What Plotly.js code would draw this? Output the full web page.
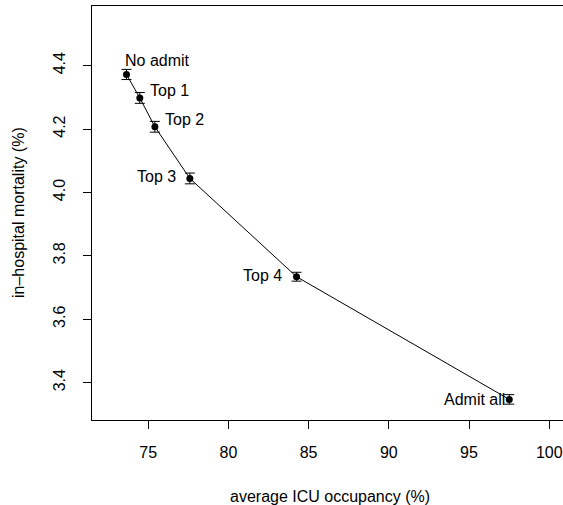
<!DOCTYPE html>
<html>
<head>
<meta charset="utf-8">
<script src="https://cdn.plot.ly/plotly-3.0.1.min.js"></script>
<style>
  html, body { margin: 0; padding: 0; overflow: hidden; background: #fff; }
  #chart { width: 575px; height: 505px; }
</style>
</head>
<body>
<div id="chart"></div>
<script>
// Admission policies: occupancy vs. mortality, with standard errors
const policies  = ["No admit", "Top 1", "Top 2", "Top 3", "Top 4", "Admit all"];
const occupancy = [73.65, 74.48, 75.42, 77.60, 84.25, 97.51];
const mortality = [4.372, 4.298, 4.207, 4.044, 3.734, 3.347];
const mortSE    = [0.016, 0.017, 0.017, 0.017, 0.014, 0.015];

const xTicks = [75, 80, 85, 90, 95, 100];
const yTicks = [3.4, 3.6, 3.8, 4.0, 4.2, 4.4];

// label placement around each point (pixels)
const labelPlace = [
  { anchor: "left",  dx: -3,  dy: 14 },
  { anchor: "left",  dx: 8,   dy: 7 },
  { anchor: "left",  dx: 8,   dy: 7 },
  { anchor: "right", dx: -12, dy: 2 },
  { anchor: "right", dx: -13, dy: 1 },
  { anchor: "right", dx: -2,  dy: 0 }
];

const FONT = "Liberation Sans, Arial, Helvetica, sans-serif";

const trace = {
  type: "scatter",
  mode: "lines+markers",
  x: occupancy,
  y: mortality,
  line: { color: "#000", width: 1 },
  marker: { color: "#000", size: 7 },
  error_y: { type: "data", array: mortSE, visible: true, color: "#000", thickness: 1, width: 5 },
  hoverinfo: "skip"
};

const annotations = policies.map((p, i) => ({
  x: occupancy[i], y: mortality[i], xref: "x", yref: "y",
  text: p, showarrow: false,
  xanchor: labelPlace[i].anchor, yanchor: "middle",
  xshift: labelPlace[i].dx, yshift: labelPlace[i].dy,
  font: { family: FONT, size: 16, color: "#000" }
}));

annotations.push({
  xref: "paper", yref: "paper", x: 0.5, y: 0, yshift: -76,
  text: "average ICU occupancy (%)", showarrow: false,
  xanchor: "center", yanchor: "middle",
  font: { family: FONT, size: 16, color: "#000" }
});
annotations.push({
  xref: "paper", yref: "paper", x: 0, y: 0.5, xshift: -74,
  text: "in\u2013hospital mortality (%)", showarrow: false, textangle: -90,
  xanchor: "center", yanchor: "middle",
  font: { family: FONT, size: 16, color: "#000" }
});

const layout = {
  width: 575, height: 505,
  margin: { l: 92, r: 7, t: 6, b: 85 },
  paper_bgcolor: "#fff", plot_bgcolor: "#fff",
  showlegend: false,
  font: { family: FONT, size: 16, color: "#000" },
  xaxis: {
    range: [71.5, 101.17],
    tickvals: xTicks, ticktext: xTicks.map(String),
    ticks: "outside", ticklen: 8, tickwidth: 1, tickcolor: "#000",
    showline: true, linecolor: "#000", linewidth: 1, mirror: true,
    showgrid: false, zeroline: false,
    ticklabelstandoff: 10,
    tickfont: { family: FONT, size: 16, color: "#000" }
  },
  yaxis: {
    range: [3.282, 4.588],
    tickvals: yTicks, ticktext: yTicks.map(v => v.toFixed(1)),
    tickangle: -90,
    ticks: "outside", ticklen: 8, tickwidth: 1, tickcolor: "#000",
    showline: true, linecolor: "#000", linewidth: 1, mirror: true,
    showgrid: false, zeroline: false,
    ticklabelstandoff: 12,
    tickfont: { family: FONT, size: 16, color: "#000" }
  },
  annotations: annotations
};

Plotly.newPlot("chart", [trace], layout, { staticPlot: true, displayModeBar: false });
</script>
</body>
</html>
